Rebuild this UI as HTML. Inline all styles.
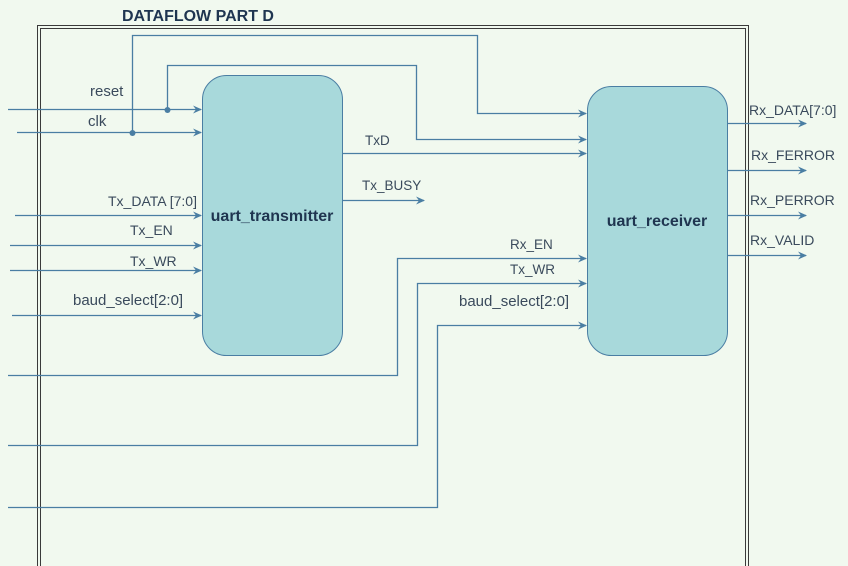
<!DOCTYPE html><html><head><style>body{margin:0;background:#f1f9ef}svg{display:block}text{font-family:"Liberation Sans",sans-serif;font-size:15px;fill:#3a4a5c}</style></head><body>
<svg width="848" height="566" xmlns="http://www.w3.org/2000/svg">
<defs><marker id="a" markerWidth="10" markerHeight="8" refX="8" refY="4" orient="auto" markerUnits="userSpaceOnUse"><path d="M0,0 L9,4 L0,8 L3,4 Z" fill="#4a7ea3"/></marker></defs>
<rect width="848" height="566" fill="#f1f9ef"/>
<rect x="37.5" y="25.5" width="711" height="545" fill="none" stroke="#3a3a3a"/>
<rect x="40.5" y="28.5" width="705" height="545" fill="none" stroke="#3a3a3a"/>
<text x="122" y="21" style="font-weight:bold;font-size:16px;fill:#1f3550">DATAFLOW PART D</text>
<rect x="202.5" y="75.5" width="140" height="280" rx="24" fill="#a8d9db" stroke="#4a7ea3"/>
<rect x="587.5" y="86.5" width="140" height="269" rx="24" fill="#a8d9db" stroke="#4a7ea3"/>
<text x="272" y="221" text-anchor="middle" style="font-weight:bold;font-size:16px;fill:#1f3550">uart_transmitter</text>
<text x="657" y="226" text-anchor="middle" style="font-weight:bold;font-size:16px;fill:#1f3550">uart_receiver</text>
<g fill="none" stroke="#4a7ea3" stroke-width="1.3" marker-end="url(#a)">
<path d="M8 109.5H201"/><path d="M17 132.5H201"/>
<path d="M167.5 109V65.5H416.5V139.5H586"/>
<path d="M132.5 132V35.5H477.5V113.5H586"/>
<path d="M342 153.5H586"/><path d="M342 200.5H424"/>
<path d="M15 215.5H201"/><path d="M10 245.5H201"/><path d="M10 270.5H201"/><path d="M12 315.5H201"/>
<path d="M8 375.5H397.5V258.5H586"/><path d="M8 445.5H417.5V283.5H586"/><path d="M8 507.5H437.5V325.5H586"/>
<path d="M727 123.5H806"/><path d="M727 170.5H806"/><path d="M727 215.5H806"/><path d="M727 255.5H806"/>
</g>
<circle cx="167.5" cy="110" r="3" fill="#4a7ea3"/><circle cx="132.5" cy="133" r="3" fill="#4a7ea3"/>
<text x="90" y="96">reset</text><text x="88" y="126">clk</text>
<text x="108" y="206" style="font-size:14px">Tx_DATA [7:0]</text><text x="130" y="235" style="font-size:14px">Tx_EN</text><text x="130" y="266" style="font-size:14px">Tx_WR</text><text x="73" y="305">baud_select[2:0]</text>
<text x="365" y="145" style="font-size:13.5px">TxD</text><text x="362" y="190" style="font-size:13.5px">Tx_BUSY</text>
<text x="510" y="249" style="font-size:13.5px">Rx_EN</text><text x="510" y="274" style="font-size:13.5px">Tx_WR</text><text x="459" y="306">baud_select[2:0]</text>
<text x="749" y="115" style="font-size:14px">Rx_DATA[7:0]</text><text x="751" y="160" style="font-size:14px">Rx_FERROR</text><text x="750" y="205" style="font-size:14px">Rx_PERROR</text><text x="750" y="245" style="font-size:14px">Rx_VALID</text>
</svg></body></html>
